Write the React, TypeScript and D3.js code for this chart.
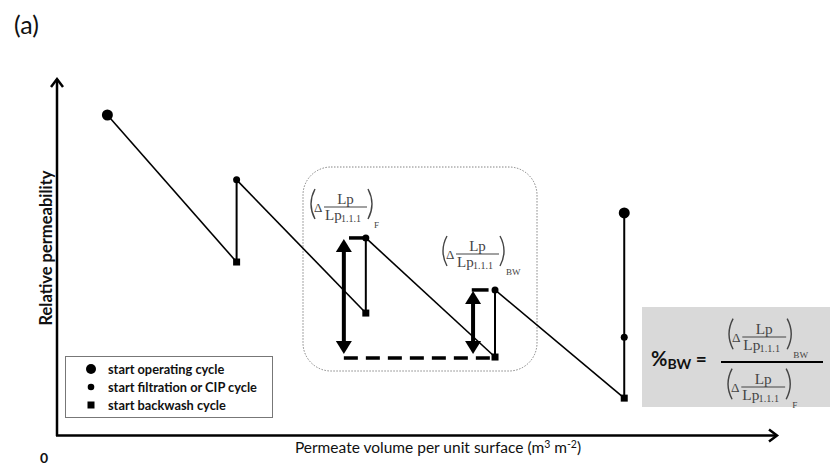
import React from "react";
import * as d3 from "d3";

// cycle boundaries along the permeate volume axis (arbitrary units)
const volume = [0.39, 1.39, 2.39, 3.39, 4.39];
// relative permeability at start and end of each filtration cycle
const startPerm = [1.0, 0.798, 0.617, 0.455];
const endPerm = [0.542, 0.383, 0.246, 0.118];
const cipPerm = 0.308;
const restartPerm = 0.695;

// marker groups
const operatingStarts: [number, number][] = [
  [volume[0], startPerm[0]],
  [volume[4], restartPerm],
];
const filtrationStarts: [number, number][] = [
  [volume[1], startPerm[1]],
  [volume[2], startPerm[2]],
  [volume[3], startPerm[3]],
  [volume[4], cipPerm],
];
const backwashStarts: [number, number][] = [
  [volume[1], endPerm[0]],
  [volume[2], endPerm[1]],
  [volume[3], endPerm[2]],
  [volume[4], endPerm[3]],
];

// annotation arrows (x position in volume units)
const arrowF = { v: 2.22, top: startPerm[2], bottom: endPerm[2] };
const arrowBW = { v: 3.22, top: startPerm[3], bottom: endPerm[2] };

const legendItems = ["start operating cycle", "start filtration or CIP cycle", "start backwash cycle"];

const W = 830;
const H = 467;

const x = d3.scaleLinear().domain([0, 5.58]).range([57, 778]);
const y = d3.scaleLinear().domain([0, 1]).range([436, 115]);

const SERIF = "'Liberation Serif', 'DejaVu Serif', serif";
const SANS = "Lato, 'Open Sans', sans-serif";

function Formula({ px, py, sub, s = 1 }: { px: number; py: number; sub: string; s?: number }) {
  const c = "#444";
  return (
    <g transform={`translate(${px},${py}) scale(${s})`} fill={c} fontFamily={SERIF}>
      <path d="M5,-18 Q-3,-3 5,12" fill="none" stroke={c} strokeWidth={1.4} />
      <text x={4} y={5} fontSize={13}>Δ</text>
      <line x1={14} x2={57} y1={0} y2={0} stroke={c} strokeWidth={1.2} />
      <text x={35.5} y={-3} fontSize={15} textAnchor="middle">Lp</text>
      <text x={15} y={13} fontSize={15}>Lp</text>
      <text x={31} y={15} fontSize={10}>1.1.1</text>
      <path d="M58,-18 Q66,-3 58,12" fill="none" stroke={c} strokeWidth={1.4} />
      <text x={64} y={21} fontSize={9}>{sub}</text>
    </g>
  );
}

function VArrow({ xv, top, bottom }: { xv: number; top: number; bottom: number }) {
  const cx = x(xv);
  const yt = y(top) + 1;
  const yb = y(bottom) - 3;
  const hw = 8;
  const hh = 13;
  return (
    <g>
      <line x1={cx} x2={cx} y1={yt + hh - 1} y2={yb - hh + 1} stroke="#000" strokeWidth={4} />
      <path d={`M${cx},${yt} L${cx - hw},${yt + hh} L${cx + hw},${yt + hh} Z`} fill="#000" />
      <path d={`M${cx},${yb} L${cx - hw},${yb - hh} L${cx + hw},${yb - hh} Z`} fill="#000" />
    </g>
  );
}

export default function App() {
  const line = d3.line<[number, number]>().x((d) => x(d[0])).y((d) => y(d[1]));
  const segments: [number, number][][] = startPerm.map((s, i) => [
    [volume[i], s],
    [volume[i + 1], endPerm[i]],
  ]);
  const verticals: [number, number, number][] = [
    [volume[1], endPerm[0], startPerm[1]],
    [volume[2], endPerm[1], startPerm[2]],
    [volume[3], endPerm[2], startPerm[3]],
    [volume[4], endPerm[3], restartPerm],
  ];
  const sq = 7;

  return (
    <svg width={W} height={H} style={{ position: "absolute", left: 0, top: 0, background: "#fff" }}>
      <rect width={W} height={H} fill="#fff" />
      <text x={14} y={34} fontFamily={SANS} fontSize={25} fill="#111">(a)</text>

      {/* dotted rounded box */}
      <rect x={303} y={167} width={234} height={204} rx={28} ry={28} fill="none" stroke="#666" strokeWidth={0.8} strokeDasharray="1.5,1.5" />

      {/* axes */}
      <g stroke="#000" strokeWidth={2.5} fill="none">
        <line x1={57} y1={436} x2={57} y2={79} />
        <path d="M51,87 L57,79 L63,87" />
        <line x1={56} y1={435.5} x2={777} y2={435.5} />
        <path d="M769,429.5 L777,435.5 L769,441.5" />
      </g>
      <text x={40} y={463} fontFamily={SANS} fontWeight={700} fontSize={14} fill="#111">0</text>
      <text
        transform={`translate(52,248) rotate(-90)`}
        textAnchor="middle"
        fontFamily={SANS}
        fontWeight={700}
        fontSize={16.5}
        fill="#111"
      >
        Relative permeability
      </text>
      <text x={438} y={453} textAnchor="middle" fontFamily={SANS} fontSize={15.5} fill="#111">
        Permeate volume per unit surface (m
        <tspan dy={-5} fontSize={10.5}>3</tspan>
        <tspan dy={5}> m</tspan>
        <tspan dy={-5} fontSize={10.5}>-2</tspan>
        <tspan dy={5}>)</tspan>
      </text>

      {/* filtration declines */}
      {segments.map((seg, i) => (
        <path key={i} d={line(seg) || ""} fill="none" stroke="#000" strokeWidth={1.6} />
      ))}
      {verticals.map(([v, a, b], i) => (
        <line key={i} x1={x(v)} x2={x(v)} y1={y(a)} y2={y(b)} stroke="#000" strokeWidth={2} />
      ))}

      {/* annotations */}
      <line x1={x(arrowF.v)} x2={x(volume[3])} y1={y(endPerm[2]) + 1} y2={y(endPerm[2]) + 1} stroke="#000" strokeWidth={3.5} strokeDasharray="14,8" />
      <line x1={x(2.26)} x2={x(2.37)} y1={y(startPerm[2])} y2={y(startPerm[2])} stroke="#000" strokeWidth={3.5} />
      <line x1={x(3.21)} x2={x(3.34)} y1={y(startPerm[3])} y2={y(startPerm[3])} stroke="#000" strokeWidth={3.5} />
      <VArrow xv={arrowF.v} top={arrowF.top} bottom={arrowF.bottom} />
      <VArrow xv={arrowBW.v} top={arrowBW.top} bottom={arrowBW.bottom} />

      {/* markers */}
      {operatingStarts.map(([v, p], i) => (
        <circle key={i} cx={x(v)} cy={y(p)} r={5.5} fill="#000" />
      ))}
      {filtrationStarts.map(([v, p], i) => (
        <circle key={i} cx={x(v)} cy={y(p)} r={3.5} fill="#000" />
      ))}
      {backwashStarts.map(([v, p], i) => (
        <rect key={i} x={x(v) - sq / 2} y={y(p) - sq / 2} width={sq} height={sq} fill="#000" />
      ))}

      <Formula px={310} py={207} sub="F" />
      <Formula px={442} py={254} sub="BW" />

      {/* legend */}
      <rect x={65.5} y={356.5} width={207} height={61} fill="#fff" stroke="#777" strokeWidth={1} />
      <circle cx={91} cy={369} r={5} fill="#000" />
      <circle cx={91} cy={387} r={3.3} fill="#000" />
      <rect x={87.5} y={401.5} width={7} height={7} fill="#000" />
      {legendItems.map((t, i) => (
        <text key={t} x={108} y={373.5 + i * 18} fontFamily={SANS} fontWeight={700} fontSize={12.8} fill="#111">
          {t}
        </text>
      ))}

      {/* %BW box */}
      <rect x={642} y={307} width={188} height={100} fill="#d9d9d9" />
      <text x={651} y={366} fontFamily={SANS} fontWeight={700} fontSize={20} fill="#111">
        %<tspan fontSize={14} dy={3}>BW</tspan>
        <tspan fontSize={19} dy={-3}> =</tspan>
      </text>
      <line x1={721} x2={823} y1={362} y2={362} stroke="#000" strokeWidth={2} />
      <Formula px={728} py={337} sub="BW" s={1.02} />
      <Formula px={727} py={387} sub="F" s={1.02} />
    </svg>
  );
}
